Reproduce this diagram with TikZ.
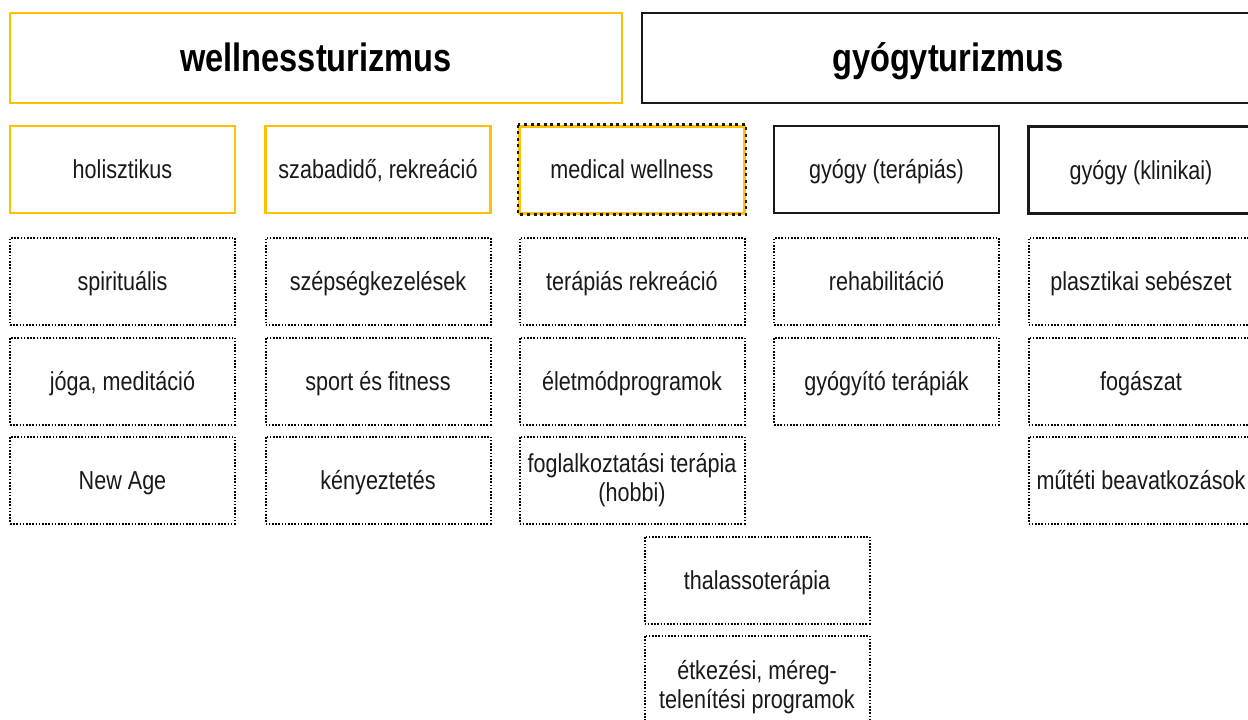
\documentclass[tikz,border=0pt]{standalone}
\usepackage{fontspec}
\setmainfont{Liberation Sans}[FakeStretch=0.83]
\newfontfamily\titlefont{Liberation Sans}[FakeStretch=0.825]
\definecolor{wyellow}{RGB}{255,192,0}
\tikzset{
  base/.style={rectangle, minimum width=225pt, minimum height=87pt, inner sep=0pt, align=center, font=\fontsize{26}{29.5}\selectfont, text=black!90, text height=20pt, text depth=2pt},
  ybox/.style={base, draw=wyellow, line width=2.6pt},
  kbox/.style={base, draw=black!90, line width=2.6pt},
  dotbox/.style={base, draw=black, line width=2pt, dash pattern=on 1.6pt off 1.6pt},
  ydash/.style={base, draw=wyellow, line width=3pt},
  plainbox/.style={rectangle, minimum width=225pt, minimum height=87pt, inner sep=0pt, draw=black, line width=2pt, dash pattern=on 1.6pt off 1.6pt},
  multitext/.style={inner sep=0pt, align=center, font=\fontsize{26}{29.5}\selectfont, text=black!90},
  titlebase/.style={rectangle, minimum width=612pt, minimum height=90pt, inner sep=0pt, font=\titlefont\bfseries\fontsize{39.5}{44}\selectfont, text height=30pt, text depth=3pt},
  titley/.style={titlebase, draw=wyellow, line width=2.6pt},
  titlek/.style={titlebase, draw=black!90, line width=2.6pt},
}
\begin{document}
\begin{tikzpicture}[x=1pt,y=-1pt]
\useasboundingbox (0,0) rectangle (1248,720);
\clip (0,0) rectangle (1248,720);
\fill[white] (0,0) rectangle (1248,720);
% titles
\node[titley] (well) at (316,58) {wellnessturizmus};
\node[titlek] (gyogy) at (948,58) {gyógyturizmus};
% row 1
\node[ybox] (hol) at (122.5,169.5) {holisztikus};
\node[ybox] (szab) at (378,169.5) {szabadidő, rekreáció};
\node[ydash] (med) at (632,169.5) {medical wellness};
\draw[black!90, line width=2.8pt, dash pattern=on 3pt off 3.6pt] (med.north west) rectangle (med.south east);
\node[kbox] (ter) at (886.5,169.5) {gyógy (terápiás)};
\node[kbox] (klin) at (1141,170) {gyógy (klinikai)};
% row 2
\node[dotbox] (spir) at (122.5,281.5) {spirituális};
\node[dotbox] (szep) at (378,281.5) {szépségkezelések};
\node[dotbox] (terrek) at (632,281.5) {terápiás rekreáció};
\node[dotbox] (rehab) at (886.5,281.5) {rehabilitáció};
\node[dotbox] (plaszt) at (1141,281.5) {plasztikai sebészet};
% row 3
\node[dotbox] (joga) at (122.5,381) {jóga, meditáció};
\node[dotbox] (sport) at (378,381) {sport és fitness};
\node[dotbox] (elet) at (632,381) {életmódprogramok};
\node[dotbox] (gyter) at (886.5,381) {gyógyító terápiák};
\node[dotbox] (fog) at (1141,381) {fogászat};
% row 4
\node[dotbox] (newage) at (122.5,480) {New Age};
\node[dotbox] (keny) at (378,480) {kényeztetés};
\node[plainbox] (foglal) at (632,480) {};
\node[multitext, anchor=base] (foglaltext) at (632,501.8) {foglalkoztatási terápia\\(hobbi)};
\node[dotbox] (mutet) at (1141,480) {műtéti beavatkozások};
% row 5, 6
\node[dotbox] (thal) at (757,580) {thalassoterápia};
\node[plainbox] (etk) at (757,679) {};
\node[multitext, anchor=base] (etktext) at (757,708.5) {étkezési, méreg-\\telenítési programok};
\end{tikzpicture}
\end{document}
